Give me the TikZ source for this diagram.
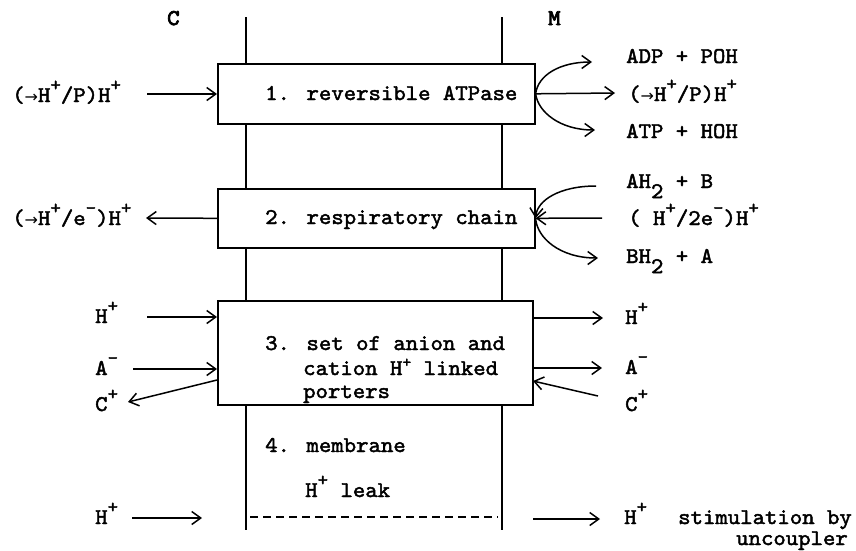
\documentclass[tikz,border=0pt]{standalone}
\usepackage{fontspec}
\newfontfamily\tw{lmmono10-regular}[Extension=.otf, FakeBold=2, FakeStretch=1.05]
\newfontfamily\twb{lmmono10-regular}[Extension=.otf, FakeBold=3.5, FakeStretch=1.05]
\newfontfamily\arrfont{DejaVu Sans}
\usetikzlibrary{arrows.meta}
\newcommand{\supx}[1]{\raisebox{0.5em}{\fontsize{19}{19}\selectfont #1}}
\newcommand{\supy}[1]{\raisebox{0.35em}{\fontsize{16}{16}\selectfont #1}}
\newcommand{\subx}[1]{\raisebox{-0.45em}{#1}}
\newcommand{\sarr}{{\arrfont\fontsize{16}{16}\selectfont →}}
\begin{document}
\begin{tikzpicture}[x=1pt,y=-1pt,
  lbl/.style={anchor=base west, inner sep=0pt, font=\tw\fontsize{22.5}{26}\selectfont},
  boxx/.style={draw, line width=1.6pt, fill=white, anchor=north west, inner sep=0pt},
  arr/.style={line width=1.5pt, -{Straight Barb[length=9pt,width=13pt]}},
  memb/.style={line width=1.6pt},
  leak/.style={line width=1.3pt, dash pattern=on 8pt off 5pt}]
\useasboundingbox (0,0) rectangle (856,550);
\fill[white] (0,0) rectangle (856,550);
% membrane
\coordinate (mlt) at (246,17); \coordinate (mlb) at (246,530);
\coordinate (mrt) at (502,17); \coordinate (mrb) at (502,530);
\draw[memb] (mlt) -- (mlb);
\draw[memb] (mrt) -- (mrb);
% boxes
\node[boxx, minimum width=317pt, minimum height=60pt] (b1) at (217,63) {};
\node[boxx, minimum width=317pt, minimum height=59pt] (b2) at (217,188) {};
\node[boxx, minimum width=315pt, minimum height=104pt] (b3) at (217,300) {};
\node[lbl] (t1) at (265,100) {1. reversible ATPase};
\node[lbl] (t2) at (265,224) {2. respiratory chain};
\node[lbl] (t3a) at (265,350) {3. set of anion and};
\node[lbl] (t3b) at (303,375) {cation H\supy{+} linked};
\node[lbl] (t3c) at (303,398) {porters};
% side labels
\node[lbl, font=\twb\fontsize{22.5}{26}\selectfont] (lC) at (167,25) {C};
\node[lbl, font=\twb\fontsize{22.5}{26}\selectfont] (lM) at (548,25) {M};
% box 1
\node[lbl] (l1) at (12,102) {(\sarr H\supx{+}/P)H\supx{+}};
\coordinate (a1) at (147,94);
\draw[arr] (a1) -- (a1 -| b1.west);
\node[lbl] (r1a) at (626,63) {ADP + POH};
\node[lbl] (r1b) at (628,101) {(\sarr H\supx{+}/P)H\supx{+}};
\node[lbl] (r1c) at (626,138) {ATP + HOH};
\coordinate (c1a) at (592,62); \coordinate (c1b) at (615,93); \coordinate (c1c) at (595,130);
\draw[arr] (b1.east) .. controls (538,75) and (560,62) .. (c1a);
\draw[arr] (b1.east) -- (c1b);
\draw[arr] (b1.east) .. controls (538,112) and (560,130) .. (c1c);
% box 2
\node[lbl] (l2) at (12,225) {(\sarr H\supx{+}/e\supx{-})H\supx{+}};
\coordinate (a2) at (146,218);
\draw[arr] (b2.west) -- (a2);
\node[lbl] (r2a) at (626,188) {AH\subx{2} + B};
\node[lbl] (r2b) at (628,225) {( H\supx{+}/2e\supx{-})H\supx{+}};
\node[lbl] (r2c) at (626,263) {BH\subx{2} + A};
\coordinate (c2a) at (596,186); \coordinate (c2b) at (602,218); \coordinate (c2c) at (598,258);
\draw[arr] (c2a) .. controls (560,186) and (537,200) .. (b2.east);
\draw[arr] (c2b) -- (b2.east);
\draw[arr] (b2.east) .. controls (537,238) and (560,258) .. (c2c);
% box 3 left
\node[lbl] (l3h) at (95,323) {H\supx{+}};
\node[lbl] (l3a) at (95,375) {A\supx{-}};
\node[lbl] (l3c) at (95,411) {C\supx{+}};
\coordinate (a3h) at (147,317); \coordinate (a3a) at (133,369);
\coordinate (a3cs) at (217,380); \coordinate (a3c) at (128,402);
\draw[arr] (a3h) -- (a3h -| b3.west);
\draw[arr] (a3a) -- (a3a -| b3.west);
\draw[arr] (a3cs) -- (a3c);
% box 3 right
\node[lbl] (r3h) at (625,324) {H\supx{+}};
\node[lbl] (r3a) at (625,374) {A\supx{-}};
\node[lbl] (r3c) at (625,411) {C\supx{+}};
\coordinate (b3h) at (603,318); \coordinate (b3a) at (602,368);
\coordinate (b3cs) at (598,396); \coordinate (b3c) at (533,381);
\draw[arr] (b3h -| b3.east) -- (b3h);
\draw[arr] (b3a -| b3.east) -- (b3a);
\draw[arr] (b3cs) -- (b3c);
% membrane & leak
\node[lbl] (t4) at (265,452) {4. membrane};
\node[lbl] (tl) at (305,497) {H\supx{+} leak};
\coordinate (dl) at (250,517); \coordinate (dr) at (498,517);
\draw[leak] (dl) -- (dr);
\node[lbl] (l5) at (95,524) {H\supx{+}};
\coordinate (a5s) at (132,518); \coordinate (a5e) at (202,518);
\draw[arr] (a5s) -- (a5e);
\coordinate (b5s) at (533,519); \coordinate (b5e) at (600,519);
\draw[arr] (b5s) -- (b5e);
\node[lbl] (r5) at (624,524) {H\supx{+}};
\node[lbl] (st) at (678,524) {stimulation by};
\node[lbl, anchor=base east] (un) at (848,545) {uncoupler};
\end{tikzpicture}
\end{document}
